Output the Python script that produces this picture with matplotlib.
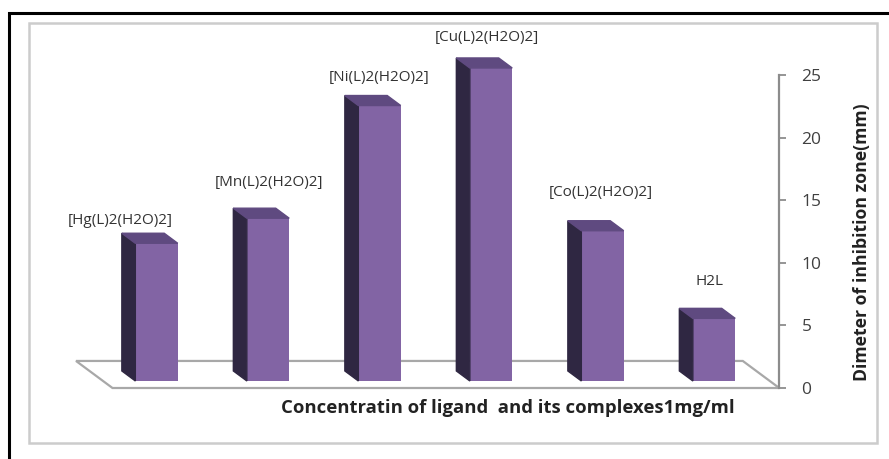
import matplotlib
matplotlib.use('Agg')
import matplotlib.pyplot as plt
from matplotlib.patches import Polygon, Rectangle
import numpy as np

# ----- data -----
compounds = ['[Hg(L)2(H2O)2]', '[Mn(L)2(H2O)2]', '[Ni(L)2(H2O)2]',
             '[Cu(L)2(H2O)2]', '[Co(L)2(H2O)2]', 'H2L']
inhibition_mm = [11, 13, 22, 25, 12, 5]
y_ticks = [0, 5, 10, 15, 20, 25]

# nudges for the name labels (in categories / mm above the bar top)
label_dx = [-0.41, -0.08, -0.09, -0.12, -0.10, -0.13]
label_dy = [2.4, 3.4, 2.8, 3.0, 3.6, 3.5]

FRONT = '#8264a4'
SIDE = '#2f2742'
TOP = '#5f4a80'
FLOOR = '#a8a8a8'

plt.rcParams['font.family'] = ['Open Sans', 'DejaVu Sans']

W_PX, H_PX = 889, 459
fig = plt.figure(figsize=(W_PX / 100, H_PX / 100), dpi=100)

# page frame layer, pixel units
bg = fig.add_axes([0, 0, 1, 1])
bg.set_xlim(0, W_PX)
bg.set_ylim(H_PX, 0)
bg.axis('off')
bg.plot([9, 9, W_PX], [H_PX, 13, 13], color='black', lw=2.2,
        solid_joinstyle='miter')
bg.add_patch(Rectangle((29, 23), 848, 420, fill=False, ec='#cccccc', lw=1.8))

# chart axes: one category = 111.5 px, one mm = 12.52 px
x0_px, cat_px = 166, 111.5
y0_px, mm_px = 388, 12.52
xlim = (-1.0, 5.5)
ylim = (-2.0, 28.0)
left = x0_px + xlim[0] * cat_px
right = x0_px + xlim[1] * cat_px
bottom = y0_px - ylim[0] * mm_px
top = y0_px - ylim[1] * mm_px
ax = fig.add_axes([left / W_PX, 1 - bottom / H_PX,
                   (right - left) / W_PX, (bottom - top) / H_PX])
ax.set_xlim(*xlim)
ax.set_ylim(*ylim)
ax.patch.set_visible(False)

# oblique depth direction (per unit of depth)
DX, DY = -0.327, 2.16

# floor
floor = [(-0.48, 0), (5.5, 0), (5.5 + DX, DY), (-0.48 + DX, DY)]
ax.add_patch(Polygon(floor, closed=True, fill=False, ec=FLOOR, lw=1.6,
                     zorder=1, clip_on=False))

# 3d columns
x = np.arange(len(compounds))
w = 0.38
d_front, d_back = 0.26, 0.63
base = d_front * DY
fx = x + d_front * DX
ax.bar(fx, inhibition_mm, width=w, bottom=base, color=FRONT, zorder=3,
       clip_on=False)
ddx, ddy = (d_back - d_front) * DX, (d_back - d_front) * DY
for xi, v in zip(fx, inhibition_mm):
    l, r = xi - w / 2, xi + w / 2
    side = [(l, base), (l, base + v), (l + ddx, base + v + ddy), (l + ddx, base + ddy)]
    lid = [(l, base + v), (r, base + v), (r + ddx, base + v + ddy), (l + ddx, base + v + ddy)]
    ax.add_patch(Polygon(side, closed=True, color=SIDE, zorder=3, clip_on=False))
    ax.add_patch(Polygon(lid, closed=True, color=TOP, zorder=3, clip_on=False))

# name labels over the columns
for i, name in enumerate(compounds):
    ax.text(x[i] + label_dx[i], inhibition_mm[i] + label_dy[i], name,
            ha='center', va='center', fontsize=11, color='#333333',
            clip_on=False)

# value axis on the right
for s in ['top', 'left', 'bottom']:
    ax.spines[s].set_visible(False)
ax.spines['right'].set_bounds(0, 25)
ax.spines['right'].set_color('#8c8c8c')
ax.spines['right'].set_linewidth(1.6)
ax.yaxis.tick_right()
ax.set_yticks(y_ticks)
ax.tick_params(axis='y', direction='out', length=5, width=1.3,
               color='#8c8c8c', labelcolor='#404040', labelsize=12.5, pad=11)
ax.set_xticks([])

bg.text(508, 408, 'Concentratin of ligand  and its complexes1mg/ml',
        ha='center', va='center', fontsize=13.3, fontweight='bold',
        color='#222222')
bg.text(862, 242, 'Dimeter of inhibition zone(mm)', ha='center',
        va='center', rotation=90, fontsize=12.7, fontweight='bold',
        color='#222222')

fig.savefig('out.png', dpi=100)
